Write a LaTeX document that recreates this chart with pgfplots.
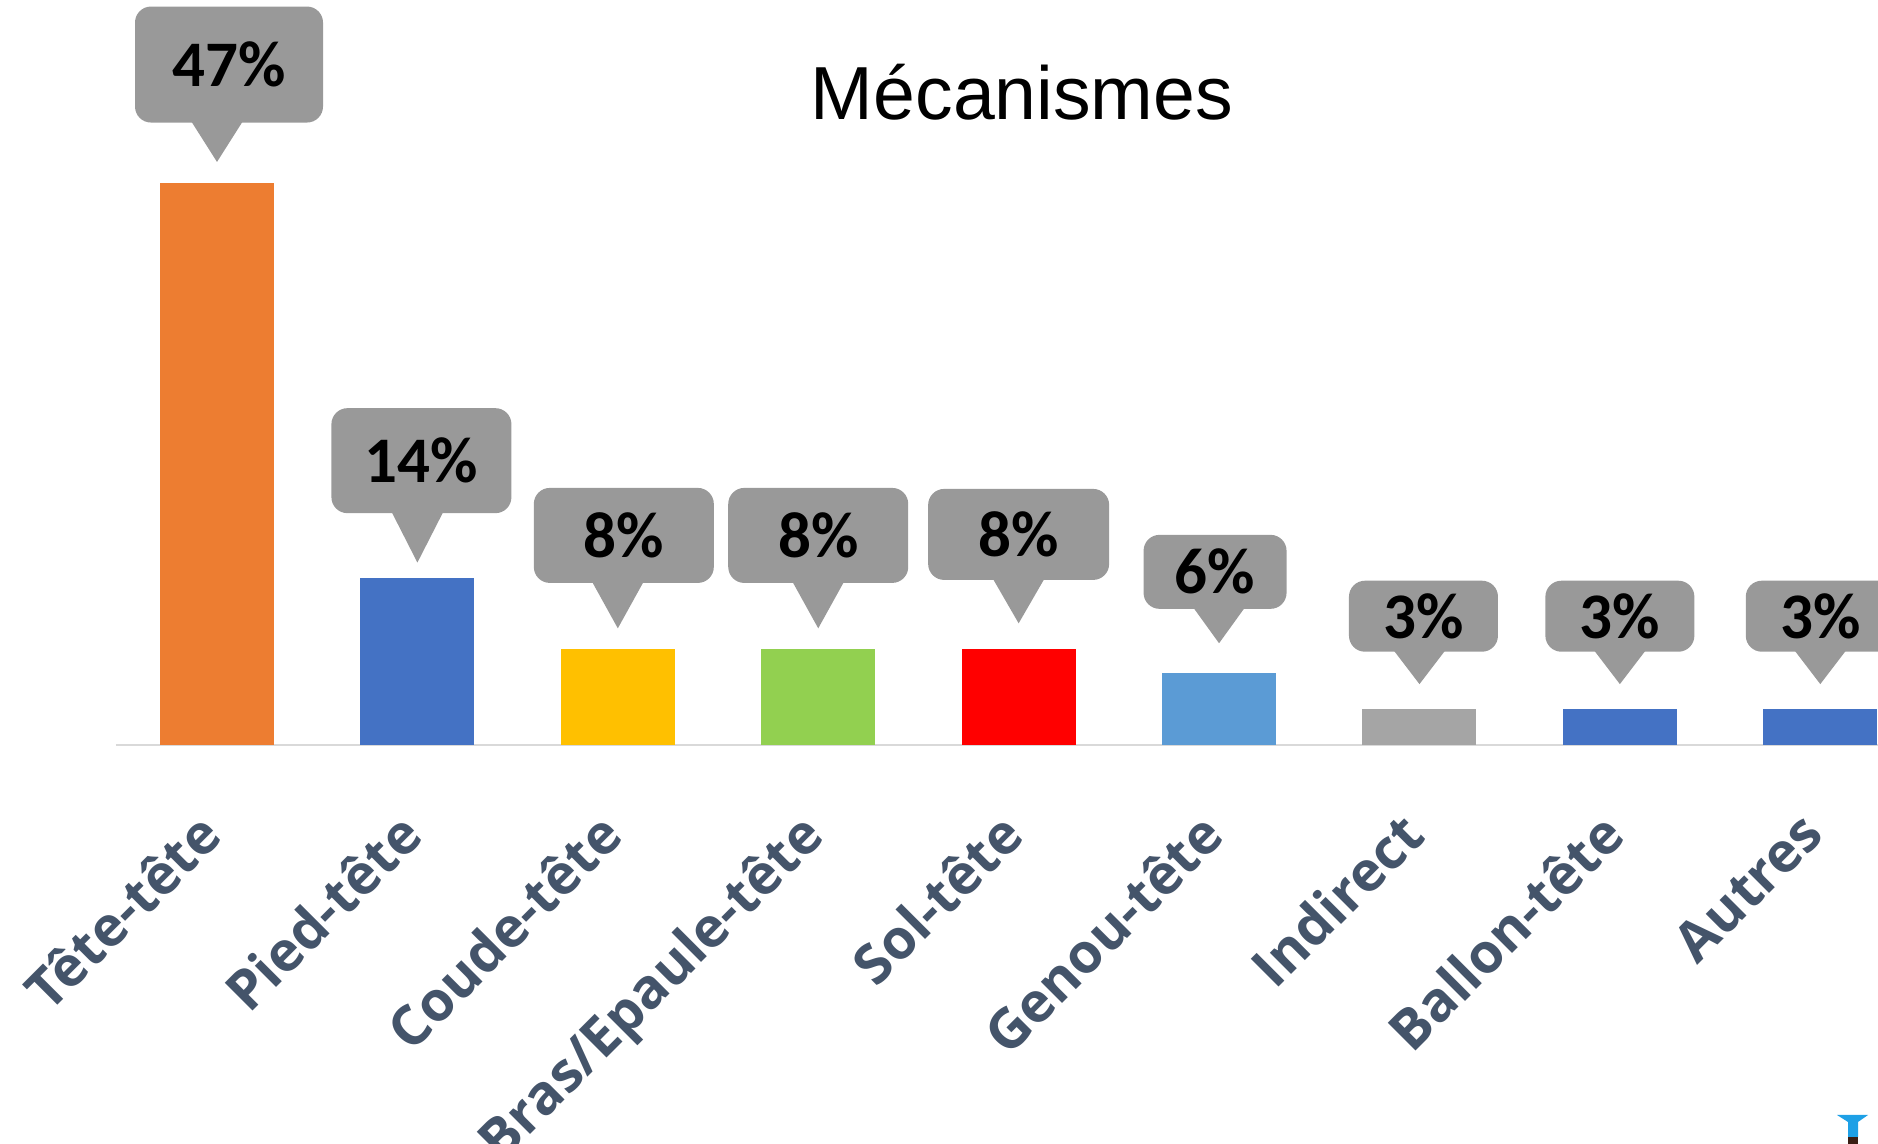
\documentclass[border=0pt]{standalone}
\usepackage{pgfplots}
\pgfplotsset{compat=1.18}
\usepackage{fontspec}
\setmainfont{Liberation Sans}
\newfontfamily\callfont{Carlito}
\newfontfamily\labfont{Open Sans}
\definecolor{cgray}{HTML}{999999}
\definecolor{labcol}{HTML}{44546A}
\definecolor{axgray}{HTML}{D9D9D9}
\definecolor{c1}{HTML}{ED7D31}
\definecolor{c2}{HTML}{4472C4}
\definecolor{c3}{HTML}{FFC000}
\definecolor{c4}{HTML}{92D050}
\definecolor{c5}{HTML}{FF0000}
\definecolor{c6}{HTML}{5B9BD5}
\definecolor{c7}{HTML}{A5A5A5}
\definecolor{logoblue}{HTML}{1EA0E6}
\definecolor{logobrown}{HTML}{3A1E14}
\pgfplotsset{
  callout/.style n args={5}{
    nodes near coords={\pgfmathprintnumber[assume math mode=true]{\pgfplotspointmeta}\%},
    every node near coord/.style={
      anchor=south, fill=cgray, rounded corners=8pt,
      minimum width=#1, minimum height=#2, inner sep=0pt,
      xshift=#5, yshift=#3+#4,
      font=\callfont\bfseries\fontsize{32.5}{32.5}\selectfont, text=black,
      append after command={\pgfextra{\fill[cgray, sharp corners]
        ([xshift=-#5-13pt, yshift=1pt]\tikzlastnode.south) --
        ([xshift=-#5+13pt, yshift=1pt]\tikzlastnode.south) --
        ([xshift=-#5, yshift=-#3]\tikzlastnode.south) -- cycle;}}
    }
  }
}
\begin{document}
\begin{tikzpicture}
\useasboundingbox (0,0) rectangle (939pt,572pt);
\begin{axis}[
  at={(58pt,199.5pt)}, anchor=south west,
  scale only axis, width=881pt, height=372.5pt,
  xmin=-0.504, xmax=8.288, ymin=0, ymax=62.3,
  ybar, bar width=57pt, bar shift=0pt,
  axis y line=none, axis x line*=bottom,
  x axis line style={draw=axgray, line width=1pt, -},
  xtick={0,1,2,3,4,5,6,7,8},
  xticklabels={Tête-tête,Pied-tête,Coude-tête,Bras/Epaule-tête,Sol-tête,Genou-tête,Indirect,Ballon-tête,Autres},
  major tick length=0pt, xtick style={draw=none},
  xticklabel style={font=\labfont\bfseries\fontsize{27.5}{27.5}\selectfont, text=labcol, xshift=-11pt, yshift=-27pt, rotate=45, anchor=north east},
  clip=false,
]
\addplot[fill=c1, draw=none, callout={94pt}{58pt}{19.5pt}{10.5pt}{6pt}] coordinates {(0,47)};
\addplot[fill=c2, draw=none, callout={90pt}{52.5pt}{24.5pt}{7.5pt}{2pt}] coordinates {(1,14)};
\addplot[fill=c3, draw=none, callout={90pt}{47.5pt}{22.5pt}{10.5pt}{3pt}] coordinates {(2,8)};
\addplot[fill=c4, draw=none, callout={90pt}{47.5pt}{22.5pt}{10.5pt}{0pt}] coordinates {(3,8)};
\addplot[fill=c5, draw=none, callout={90.5pt}{45.5pt}{21.5pt}{13pt}{0pt}] coordinates {(4,8)};
\addplot[fill=c6, draw=none, callout={71.5pt}{37pt}{17pt}{15pt}{-2pt}] coordinates {(5,6)};
\addplot[fill=c7, draw=none, callout={74.5pt}{35.5pt}{16pt}{12.5pt}{2pt}] coordinates {(6,3)};
\addplot[fill=c2, draw=none, callout={74.5pt}{35.5pt}{16pt}{12.5pt}{0pt}] coordinates {(7,3)};
\addplot[fill=c2, draw=none, callout={74.5pt}{35.5pt}{16pt}{12.5pt}{0pt}] coordinates {(8,3)};
\end{axis}
\node[anchor=base, font=\fontsize{37.6}{37.6}\selectfont] at (511pt,512pt) {Mécanismes};
\fill[logoblue] (918.5pt,14.5pt) -- (934pt,14.5pt) -- (929pt,11pt) -- (929pt,3.5pt) -- (924pt,3.5pt) -- (924pt,11pt) -- cycle;
\fill[logobrown] (924pt,3.5pt) rectangle (929pt,0pt);
\end{tikzpicture}
\end{document}
